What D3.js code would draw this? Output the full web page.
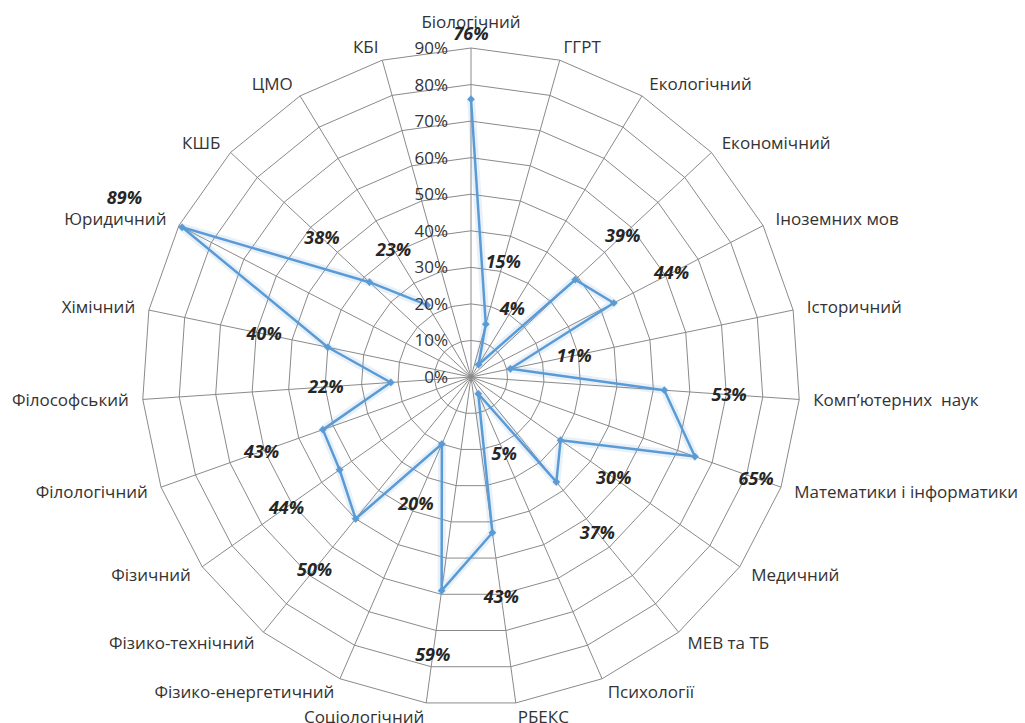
<!DOCTYPE html>
<html>
<head>
<meta charset="utf-8">
<script src="https://cdn.jsdelivr.net/npm/d3@7/dist/d3.min.js"></script>
<style>
  html, body { margin: 0; padding: 0; background: #fff; }
  svg { display: block; }
  text { white-space: pre; }
</style>
</head>
<body>
<svg id="chart" width="1025" height="723"></svg>
<script>
// Faculties / institutes, clockwise from the top
const categories = [
  "Біологічний", "ГГРТ", "Екологічний", "Економічний", "Іноземних мов",
  "Історичний", "Комп’ютерних  наук", "Математики і інформатики", "Медичний",
  "МЕВ та ТБ", "Психології", "РБЕКС", "Соціологічний", "Фізико-енергетичний",
  "Фізико-технічний", "Фізичний", "Філологічний", "Філософський", "Хімічний",
  "Юридичний", "КШБ", "ЦМО", "КБІ"
];
// Share per faculty, %; КБІ has no value
const shares = [76, 15, 4, 39, 44, 11, 53, 65, 30, 37, 5, 43, 59, 20, 50, 44, 43, 22, 40, 89, 38, 23, null];
// Radial axis ticks, %
const tickValues = [0, 10, 20, 30, 40, 50, 60, 70, 80, 90];

const svg = d3.select("#chart");
const cx = 471, cy = 377;
const FONT = "'Open Sans', sans-serif";
const r = d3.scaleLinear().domain([0, 90]).range([0, 329]);
const n = categories.length;
const angle = i => i * 2 * Math.PI / n;

const g = svg.append("g").attr("transform", `translate(${cx},${cy})`);

// polygonal grid rings
const ring = d3.lineRadial()
  .angle((d, i) => angle(i))
  .radius(d => r(d))
  .curve(d3.curveLinearClosed);
g.append("g").selectAll("path")
  .data(tickValues.filter(t => t > 0))
  .join("path")
  .attr("d", t => ring(categories.map(() => t)))
  .attr("fill", "none")
  .attr("stroke", "#8a8a8a")
  .attr("stroke-width", 1);

// spokes
g.append("g").selectAll("line")
  .data(categories)
  .join("line")
  .attr("x1", 0).attr("y1", 0)
  .attr("x2", (d, i) => r(90) * Math.sin(angle(i)))
  .attr("y2", (d, i) => -r(90) * Math.cos(angle(i)))
  .attr("stroke", "#8a8a8a")
  .attr("stroke-width", 1);

// category labels just outside the outer ring
const labelR = r(90) + 14;
g.append("g").selectAll("text")
  .data(categories)
  .join("text")
  .attr("x", (d, i) => labelR * Math.sin(angle(i)))
  .attr("y", (d, i) => {
    const y = -labelR * Math.cos(angle(i));
    return Math.abs(Math.sin(angle(i))) < 1e-6 ? y - 12 : y;
  })
  .attr("dy", "0.35em")
  .attr("text-anchor", (d, i) => {
    const s = Math.sin(angle(i));
    return Math.abs(s) < 1e-6 ? "middle" : (s > 0 ? "start" : "end");
  })
  .attr("font-family", FONT)
  .attr("font-size", 17)
  .attr("fill", "#333")
  .text(d => d);

// series
const line = d3.lineRadial()
  .defined(d => d != null)
  .angle((d, i) => angle(i))
  .radius(d => r(d));
g.append("path")
  .attr("d", line(shares))
  .attr("fill", "none")
  .attr("stroke", "#5B9BD5")
  .attr("stroke-opacity", 0.14)
  .attr("stroke-width", 8)
  .attr("stroke-linejoin", "round");
g.append("path")
  .attr("d", line(shares))
  .attr("fill", "none")
  .attr("stroke", "#5B9BD5")
  .attr("stroke-width", 2.5)
  .attr("stroke-linejoin", "round");

const pts = shares.map((v, i) => ({ v, i })).filter(d => d.v != null);
g.append("g").selectAll("path")
  .data(pts)
  .join("path")
  .attr("transform", d => `translate(${r(d.v) * Math.sin(angle(d.i))},${-r(d.v) * Math.cos(angle(d.i))}) rotate(45)`)
  .attr("d", d3.symbol(d3.symbolSquare, 30))
  .attr("fill", "#5B9BD5");

// value labels, set out along each spoke
const offset = 65;
g.append("g").selectAll("text")
  .data(pts)
  .join("text")
  .attr("x", d => (r(d.v) + offset) * Math.sin(angle(d.i)))
  .attr("y", d => -(r(d.v) + offset) * Math.cos(angle(d.i)))
  .attr("dy", "0.35em")
  .attr("text-anchor", "middle")
  .attr("font-family", FONT)
  .attr("font-size", 18)
  .attr("font-weight", "bold")
  .attr("font-style", "italic")
  .attr("fill", "#262626")
  .text(d => d.v + "%");

// radial axis labels along the top spoke
g.append("g").selectAll("text")
  .data(tickValues)
  .join("text")
  .attr("x", -23)
  .attr("y", t => -r(t))
  .attr("dy", "0.35em")
  .attr("text-anchor", "end")
  .attr("font-family", FONT)
  .attr("font-size", 17)
  .attr("fill", "#333")
  .text(t => t + "%");
</script>
</body>
</html>
